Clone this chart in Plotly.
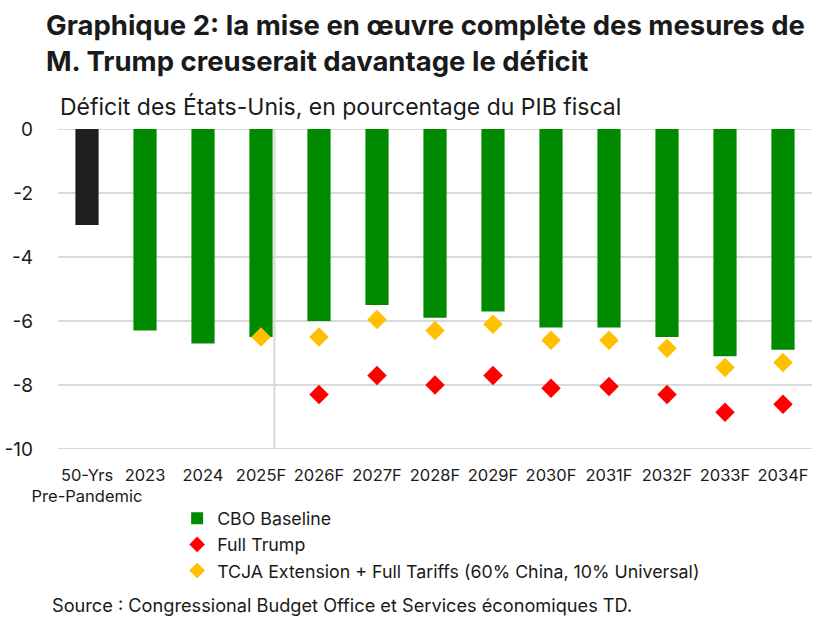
import plotly.graph_objects as go

categories = ["50-Yrs<br>Pre-Pandemic", "2023", "2024", "2025F", "2026F", "2027F", "2028F",
              "2029F", "2030F", "2031F", "2032F", "2033F", "2034F"]
pre_pandemic_avg = [-3.0, None, None, None, None, None, None, None, None, None, None, None, None]
cbo_baseline = [None, -6.3, -6.7, -6.5, -6.0, -5.5, -5.9, -5.7, -6.2, -6.2, -6.5, -7.1, -6.9]
full_trump = [None, None, None, None, -8.3, -7.7, -8.0, -7.7, -8.1, -8.05, -8.3, -8.85, -8.6]
tcja_tariffs = [None, None, None, -6.5, -6.5, -5.95, -6.3, -6.1, -6.6, -6.6, -6.85, -7.45, -7.3]
y_ticks = [0, -2, -4, -6, -8, -10]
y_tick_text = ["0", "-2", "-4", "-6", "-8", "-10"]

FONT = "Inter"
TXT = "#1a1a1a"
GRID = "#d9d9d9"

fig = go.Figure()
fig.add_trace(go.Bar(x=categories, y=pre_pandemic_avg, showlegend=False,
                     marker=dict(color="#1e1e1e", line=dict(width=0)), width=0.4))
fig.add_trace(go.Bar(x=categories, y=cbo_baseline, name="CBO Baseline",
                     marker=dict(color="#008a00", line=dict(width=0)), width=0.4))
fig.add_trace(go.Scatter(x=categories, y=full_trump, name="Full Trump", mode="markers",
                         marker=dict(symbol="diamond", size=15, color="#ff0000")))
fig.add_trace(go.Scatter(x=categories, y=tcja_tariffs,
                         name="TCJA Extension + Full Tariffs (60% China, 10% Universal)",
                         mode="markers",
                         marker=dict(symbol="diamond", size=15, color="#ffc000")))

# separator between history and forecasts
fig.add_shape(type="line", xref="x", yref="y", x0=3.23, x1=3.23, y0=0, y1=-10,
              line=dict(color=GRID, width=2), layer="below")
# make sure the edge gridlines (0 and -10) are drawn
for yv in (y_ticks[0], y_ticks[-1]):
    fig.add_shape(type="line", xref="paper", yref="y", x0=0, x1=1, y0=yv, y1=yv,
                  line=dict(color=GRID, width=2), layer="below")

fig.update_layout(
    width=827, height=617,
    margin=dict(l=58, r=15, t=129, b=168, autoexpand=False),
    paper_bgcolor="white", plot_bgcolor="white",
    font=dict(family=FONT, size=17, color=TXT),
    barmode="overlay",
    showlegend=True,
    legend=dict(x=0.158, y=-0.16, xanchor="left", yanchor="top",
                font=dict(size=17.8, family=FONT, color=TXT), tracegroupgap=0,
                itemsizing="constant", itemwidth=30, bgcolor="rgba(0,0,0,0)"),
    xaxis=dict(type="category", range=[-0.5, 12.5], showgrid=False, zeroline=False,
               showline=False, ticks="", tickangle=0, automargin=False,
               ticklabelstandoff=14, tickfont=dict(size=16.5)),
    yaxis=dict(range=[-10, 0], tickvals=y_ticks, ticktext=y_tick_text, showgrid=True,
               gridcolor=GRID, gridwidth=2, zeroline=False, showline=False,
               ticks="", automargin=False, ticklabelstandoff=24, tickfont=dict(size=19)),
    annotations=[
        dict(text="<b>Graphique 2: la mise en œuvre complète des mesures de<br>M. Trump creuserait davantage le déficit</b>",
             xref="paper", yref="paper", x=-0.019, y=1.385, xanchor="left", yanchor="top",
             align="left", showarrow=False, font=dict(size=27.5, family=FONT, color=TXT)),
        dict(text="Déficit des États-Unis, en pourcentage du PIB fiscal",
             xref="paper", yref="paper", x=0.0, y=1.07, xanchor="left", yanchor="middle",
             showarrow=False, font=dict(size=23, family=FONT, color=TXT)),
        dict(text="Source : Congressional Budget Office et Services économiques TD.",
             xref="paper", yref="paper", x=-0.011, y=-0.487, xanchor="left", yanchor="middle",
             showarrow=False, font=dict(size=18.2, family=FONT, color=TXT)),
    ],
)
fig.write_html("out.html", config={"displayModeBar": False},
               post_script="document.body.style.margin='0';")
